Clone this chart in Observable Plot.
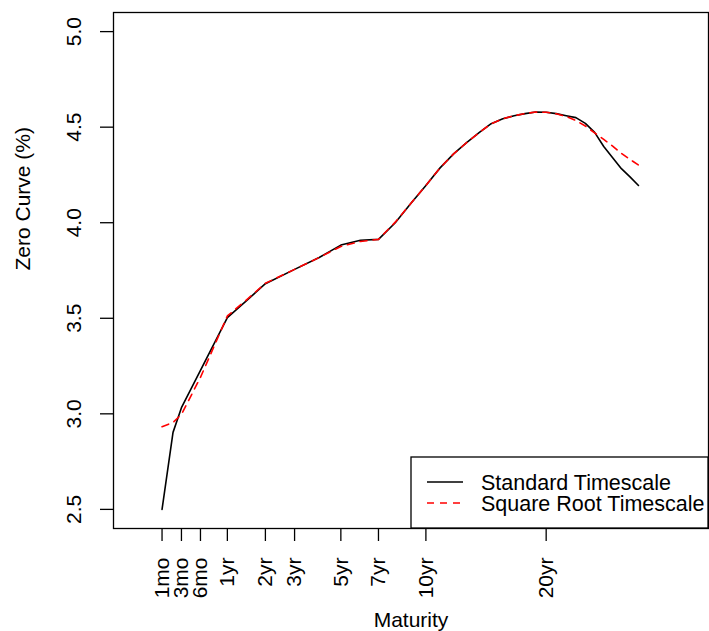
<!DOCTYPE html>
<html>
<head>
<meta charset="utf-8">
<script src="https://cdn.jsdelivr.net/npm/d3@7"></script>
<script src="https://cdn.jsdelivr.net/npm/@observablehq/plot@0.6"></script>
<style>
  body { margin: 0; background: #fff; }
  #chart { width: 709px; height: 631px; }
</style>
</head>
<body>
<div id="chart"></div>
<script>
// Maturities in years at which both interpolated zero curves are evaluated
const maturities = [1/12, 2/12, 3/12, 6/12, 1, 1.5, 2, 3, 4, 5, 6, 7, 8, 9, 10,
  11, 12, 13, 14, 15, 16, 17, 18, 19, 20, 21, 22, 23, 24, 25, 26, 27, 28, 29, 30];

// Zero rates (%) interpolated on the standard timescale
const standardCurve = [2.500, 2.903, 3.032, 3.227, 3.503, 3.599, 3.681, 3.756, 3.818, 3.883,
  3.908, 3.913, 4.000, 4.102, 4.195, 4.287, 4.360, 4.419, 4.471, 4.518,
  4.544, 4.560, 4.571, 4.579, 4.578, 4.571, 4.560, 4.550, 4.520, 4.473,
  4.399, 4.340, 4.283, 4.240, 4.195];

// Zero rates (%) interpolated on the square-root timescale
const sqrtCurve = [2.933, 2.955, 2.997, 3.191, 3.512, 3.603, 3.683, 3.756, 3.818, 3.876,
  3.902, 3.913, 4.003, 4.102, 4.195, 4.287, 4.360, 4.419, 4.471, 4.518,
  4.544, 4.560, 4.571, 4.579, 4.578, 4.570, 4.556, 4.535, 4.506, 4.470,
  4.436, 4.401, 4.363, 4.331, 4.302];

const tickYears = [1/12, 0.25, 0.5, 1, 2, 3, 5, 7, 10, 20];
const tickLabels = ["1mo", "3mo", "6mo", "1yr", "2yr", "3yr", "5yr", "7yr", "10yr", "20yr"];
const yTicks = [2.5, 3.0, 3.5, 4.0, 4.5, 5.0];
const seriesNames = ["Standard Timescale", "Square Root Timescale"];
const seriesColors = ["#000000", "#ff0000"];
const seriesDash = [null, "7,6"];

const W = 709, H = 631;
const M = {top: 12, right: 1, bottom: 103, left: 113};
const font = "'Liberation Sans', Arial, Helvetica, sans-serif";
const fs = 21;
const legendFs = 21.5;

const labelOf = new Map(tickYears.map((t, i) => [Math.sqrt(t), tickLabels[i]]));

const chart = Plot.plot({
  width: W,
  height: H,
  marginTop: M.top,
  marginRight: M.right,
  marginBottom: M.bottom,
  marginLeft: M.left,
  style: {fontFamily: font, fontSize: fs + "px", background: "#fff", color: "#000", overflow: "visible"},
  x: {type: "linear", domain: [-0.24, 6.24]},
  y: {type: "linear", domain: [2.4, 5.1]},
  marks: [
    Plot.axisX(tickYears.map(Math.sqrt), {
      tickSize: 13, tickPadding: 16, tickRotate: -90,
      tickFormat: d => labelOf.get(d), label: null, strokeWidth: 1.3, fontSize: fs
    }),
    Plot.axisY(yTicks, {
      tickSize: 13, tickPadding: 26, tickRotate: -90, lineAnchor: "middle",
      tickFormat: d3.format(".1f"), label: null, strokeWidth: 1.3, fontSize: fs
    }),
    Plot.line(maturities, {
      x: d => Math.sqrt(d), y: (d, i) => standardCurve[i],
      stroke: seriesColors[0], strokeWidth: 1.6
    }),
    Plot.line(maturities, {
      x: d => Math.sqrt(d), y: (d, i) => sqrtCurve[i],
      stroke: seriesColors[1], strokeWidth: 1.6, strokeDasharray: seriesDash[1]
    }),
    Plot.frame({stroke: "#000", strokeWidth: 1.3}),
    Plot.text(["Maturity"], {text: d => d, frameAnchor: "bottom", dy: 92, lineAnchor: "middle", fontSize: fs}),
    Plot.text(["Zero Curve (%)"], {text: d => d, frameAnchor: "left", dx: -90, rotate: -90, lineAnchor: "middle", fontSize: fs})
  ]
});

document.getElementById("chart").appendChild(chart);

// Legend box in the bottom-right corner of the plotting region
const frameRight = W - M.right, frameBottom = H - M.bottom;
const boxW = 297, boxH = 71;
const lg = d3.select(chart).append("g")
  .attr("transform", `translate(${frameRight - boxW},${frameBottom - boxH})`)
  .attr("font-family", font)
  .attr("font-size", legendFs)
  .attr("text-anchor", "start");
lg.append("rect")
  .attr("x", 0).attr("y", 0).attr("width", boxW).attr("height", boxH)
  .attr("fill", "#fff").attr("stroke", "#000").attr("stroke-width", 1.3);
seriesNames.forEach((name, i) => {
  const cy = 25 + i * 21;
  lg.append("line")
    .attr("x1", 16).attr("x2", 52).attr("y1", cy).attr("y2", cy)
    .attr("stroke", seriesColors[i]).attr("stroke-width", 1.5)
    .attr("stroke-dasharray", seriesDash[i]);
  lg.append("text")
    .attr("x", 70).attr("y", cy).attr("dy", "0.35em")
    .attr("fill", "#000")
    .text(name);
});
</script>
</body>
</html>
